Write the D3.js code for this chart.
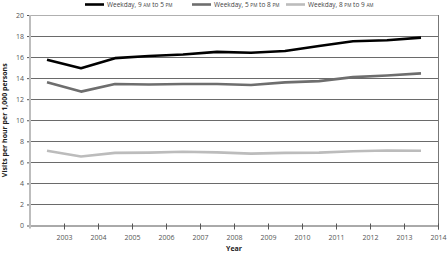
<!DOCTYPE html>
<html>
<head>
<meta charset="utf-8">
<script src="https://cdn.jsdelivr.net/npm/d3@7"></script>
<style>
  body { margin: 0; background: #fff; }
  text { font-family: "Open Sans", sans-serif; }
</style>
</head>
<body>
<svg></svg>
<script>
const years = [2002.5, 2003.5, 2004.5, 2005.5, 2006.5, 2007.5, 2008.5, 2009.5, 2010.5, 2011.5, 2012.5, 2013.5];
const day = [15.75, 14.95, 15.9, 16.1, 16.25, 16.5, 16.42, 16.58, 17.05, 17.5, 17.6, 17.85];
const evening = [13.62, 12.72, 13.45, 13.4, 13.45, 13.45, 13.35, 13.6, 13.72, 14.1, 14.25, 14.45];
const night = [7.1, 6.55, 6.9, 6.92, 7.0, 6.95, 6.83, 6.9, 6.92, 7.05, 7.12, 7.1];
const xTicks = [2003, 2004, 2005, 2006, 2007, 2008, 2009, 2010, 2011, 2012, 2013, 2014];
const yTicks = [0, 2, 4, 6, 8, 10, 12, 14, 16, 18, 20];

const series = [
    { name: ['Weekday, 9 ', 'am', ' to 5 ', 'pm'], values: day, color: '#000000' },
    { name: ['Weekday, 5 ', 'pm', ' to 8 ', 'pm'], values: evening, color: '#6e6e6e' },
    { name: ['Weekday, 8 ', 'pm', ' to 9 ', 'am'], values: night, color: '#bcbcbc' }
];

const svgWidth = 447;
const svgHeight = 256;
const margin = { top: 15, right: 9, bottom: 30.5, left: 30 };
const width = svgWidth - margin.left - margin.right;
const height = svgHeight - margin.top - margin.bottom;

const x = d3.scaleLinear().domain([2002, 2014]).range([0, width]);
const y = d3.scaleLinear().domain([0, 20]).range([height, 0]);

const root = d3.select('svg')
    .attr('width', svgWidth)
    .attr('height', svgHeight);

const svg = root.append('g')
    .attr('transform', `translate(${margin.left}, ${margin.top})`);

// gridlines
svg.selectAll('.grid')
    .data(yTicks.filter(d => d > 0))
    .enter().append('line')
    .attr('x1', 0)
    .attr('x2', width)
    .attr('y1', d => Math.round(y(d)) + 0.5)
    .attr('y2', d => Math.round(y(d)) + 0.5)
    .attr('stroke', d => d === 20 ? '#b0b0b0' : '#6a6a6a')
    .attr('stroke-width', 1);

// right frame
svg.append('line')
    .attr('x1', width + 0.5).attr('x2', width + 0.5)
    .attr('y1', y(20)).attr('y2', y(0) + 4)
    .attr('stroke', '#777');

// y axis
const yAxis = svg.append('g')
    .call(d3.axisLeft(y).tickValues(yTicks).tickSize(3).tickPadding(3));
yAxis.select('.domain').remove();
yAxis.selectAll('.tick line').attr('stroke', '#555');
yAxis.selectAll('.tick text')
    .attr('fill', '#555')
    .attr('font-size', '7px')
    .attr('font-family', '"Open Sans", sans-serif');

// x axis
const xAxis = svg.append('g')
    .attr('transform', `translate(0, ${height})`)
    .call(d3.axisBottom(x).tickValues(xTicks).tickFormat(d3.format('d')).tickSize(4).tickPadding(6));
xAxis.select('.domain').attr('stroke', '#555').attr('d', `M0,0.5H${width}`);
xAxis.selectAll('.tick line').attr('stroke', '#555').attr('y1', -2);
xAxis.selectAll('.tick text')
    .attr('fill', '#555')
    .attr('font-size', '7px')
    .attr('font-family', '"Open Sans", sans-serif');

// left axis bar
svg.append('line')
    .attr('x1', 0).attr('x2', 0)
    .attr('y1', y(20)).attr('y2', y(0) + 3)
    .attr('stroke', '#bdbdbd')
    .attr('stroke-width', 2);

// lines
const line = d3.line()
    .x((d, i) => x(years[i]))
    .y(d => y(d));

svg.selectAll('.series')
    .data(series)
    .enter().append('path')
    .attr('fill', 'none')
    .attr('stroke', d => d.color)
    .attr('stroke-width', 2.6)
    .attr('stroke-linejoin', 'round')
    .attr('d', d => line(d.values));

// axis titles
svg.append('text')
    .attr('x', width / 2)
    .attr('y', height + 25)
    .attr('text-anchor', 'middle')
    .attr('font-size', '7px')
    .attr('font-weight', 'bold')
    .attr('fill', '#222')
    .text('Year');

svg.append('text')
    .attr('transform', 'rotate(-90)')
    .attr('x', -height / 2)
    .attr('y', -23)
    .attr('text-anchor', 'middle')
    .attr('font-size', '7px')
    .attr('font-weight', 'bold')
    .attr('fill', '#222')
    .text('Visits per hour per 1,000 persons');

// legend
const legendX = [85, 192, 286];
const legend = root.append('g').attr('transform', 'translate(0, 4.5)');
series.forEach((s, i) => {
    const g = legend.append('g').attr('transform', `translate(${legendX[i]}, 0)`);
    g.append('line')
        .attr('x1', 0).attr('x2', 19)
        .attr('y1', 0).attr('y2', 0)
        .attr('stroke', s.color)
        .attr('stroke-width', 2.6);
    const t = g.append('text')
        .attr('x', 22)
        .attr('y', 2.3)
        .attr('font-size', '6.5px')
        .attr('fill', '#444');
    s.name.forEach((part, j) => {
        t.append('tspan')
            .attr('font-size', j % 2 ? '4.7px' : '6.5px')
            .text(j % 2 ? part.toUpperCase() : part);
    });
});
</script>
</body>
</html>
